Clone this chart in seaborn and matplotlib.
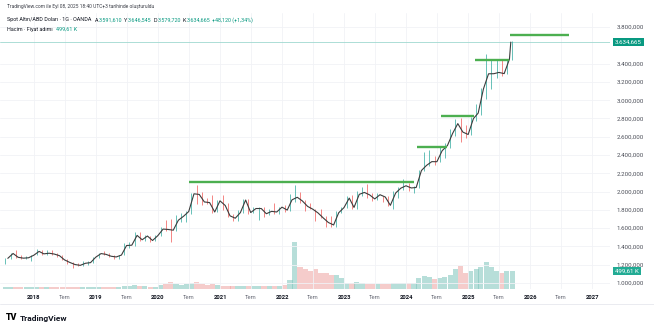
import matplotlib
matplotlib.use("Agg")
import numpy as np
import pandas as pd
import matplotlib.pyplot as plt
import matplotlib.transforms as mtransforms
from matplotlib.lines import Line2D
import seaborn as sns

sns.set_theme(style="white")
plt.rcParams['font.family'] = ['Roboto', 'DejaVu Sans']

# ---------------- data (monthly, Jul 2017 .. Sep 2025) ----------------
close = [1269, 1322, 1280, 1271, 1275, 1303,
         1345, 1318, 1325, 1316, 1298, 1252, 1224, 1201, 1192, 1215, 1222, 1282,
         1321, 1313, 1292, 1284, 1305, 1409, 1413, 1520, 1472, 1513, 1464, 1517,
         1589, 1585, 1577, 1686, 1730, 1781, 1975, 1968, 1886, 1879, 1776, 1898,
         1847, 1734, 1708, 1769, 1907, 1770, 1814, 1814, 1757, 1783, 1776, 1829,
         1797, 1909, 1937, 1897, 1837, 1807, 1766, 1711, 1661, 1634, 1768, 1824,
         1928, 1826, 1969, 1990, 1963, 1919, 1965, 1940, 1849, 1983, 2036, 2063,
         2039, 2044, 2230, 2286, 2327, 2326, 2447, 2503, 2634, 2743, 2650, 2624,
         2798, 2858, 3123, 3288, 3289, 3303, 3290, 3448, 3634.665]
high = [1270, 1331, 1357, 1306, 1299, 1306,
        1366, 1361, 1356, 1365, 1326, 1309, 1265, 1227, 1214, 1243, 1237, 1284,
        1326, 1347, 1324, 1310, 1306, 1439, 1453, 1555, 1557, 1519, 1516, 1523,
        1611, 1689, 1704, 1747, 1765, 1789, 1984, 2075, 1992, 1933, 1965, 1906,
        1959, 1871, 1755, 1798, 1913, 1917, 1832, 1832, 1834, 1814, 1877, 1831,
        1853, 1974, 2070, 1998, 1910, 1879, 1814, 1808, 1735, 1730, 1786, 1833,
        1949, 1959, 2009, 2048, 2079, 1983, 1987, 1949, 1953, 2009, 2052, 2135,
        2088, 2065, 2236, 2431, 2450, 2387, 2483, 2531, 2685, 2790, 2801, 2726,
        2817, 2956, 3128, 3500, 3435, 3452, 3439, 3453, 3646.545]
low = [1205, 1267, 1272, 1260, 1264, 1237,
       1302, 1307, 1303, 1310, 1282, 1246, 1211, 1160, 1180, 1183, 1196, 1221,
       1276, 1310, 1281, 1266, 1267, 1301, 1382, 1400, 1459, 1458, 1445, 1454,
       1517, 1564, 1451, 1567, 1670, 1671, 1757, 1863, 1848, 1860, 1764, 1775,
       1802, 1717, 1677, 1678, 1766, 1750, 1761, 1688, 1721, 1746, 1759, 1753,
       1780, 1782, 1890, 1872, 1787, 1805, 1681, 1709, 1615, 1617, 1616, 1765,
       1823, 1804, 1810, 1949, 1932, 1893, 1902, 1884, 1846, 1810, 1931, 2016,
       2002, 1984, 2039, 2228, 2277, 2286, 2319, 2364, 2471, 2603, 2537, 2583,
       2614, 2772, 2833, 3015, 3121, 3247, 3268, 3282, 3436]
volume_k = [50, 50, 55, 50, 45, 50,
            50, 55, 50, 45, 45, 50, 50, 60, 50, 50, 45, 50,
            55, 50, 50, 50, 55, 90, 80, 110, 90, 75, 65, 65,
            110, 150, 200, 130, 120, 130, 170, 200, 140, 110, 130, 100,
            90, 85, 80, 70, 70, 75, 70, 80, 70, 70, 80, 70,
            100, 250, 1300, 600, 550, 500, 550, 450, 450, 400, 400, 300,
            180, 170, 200, 160, 150, 140, 150, 140, 150, 180, 160, 170,
            160, 170, 300, 350, 320, 280, 300, 320, 400, 550, 650, 450,
            500, 550, 600, 750, 600, 500, 450, 500, 499.61]

level_values = [2100, 2490, 2825, 3440, 3712]
level_starts = ["2020-07-01", "2024-03-07", "2024-07-25", "2025-02-10", "2025-09-05"]
level_ends = ["2024-02-17", "2024-08-28", "2025-02-06", "2025-08-29", "2026-08-18"]

price_ticks = [1000, 1200, 1400, 1600, 1800, 2000, 2200, 2400, 2600, 2800,
               3000, 3200, 3400, 3800]
years = list(range(2018, 2028))
last_price = 3634.665
last_volume = 499.61

# ---------------- figure ----------------
W, H = 654, 332
fig = plt.figure(figsize=(W / 100, H / 100), dpi=100)
fig.patch.set_facecolor("white")
ax_top, ax_bot, ax_right = 13, 289, 610
ax = fig.add_axes([0, 1 - ax_bot / H, ax_right / W, (ax_bot - ax_top) / H])
axv = ax.twinx()
ax.set_zorder(axv.get_zorder() + 1)
ax.patch.set_visible(False)

months = pd.date_range("2017-07-01", periods=len(close), freq="MS")
close_dates = list(months + pd.offsets.MonthEnd(0))
close_dates[-1] = pd.Timestamp("2025-09-08")
mid_dates = months + pd.Timedelta(days=15)
df = pd.DataFrame({"date": close_dates, "close": close, "high": high, "low": low})
opens = [close[0]] + close[:-1]
up = [c >= o for c, o in zip(close, opens)]

# volume
vcol = ["#7cc4ba" if u else "#eea3a1" for u in up]
axv.bar(mid_dates, volume_k, width=30, color=vcol, alpha=0.55, linewidth=0)
axv.set_ylim(0, last_volume * (ax_bot - ax_top) / 18)
axv.set_yticks([])
for s in axv.spines.values():
    s.set_visible(False)

# price
ax.vlines(mid_dates, low, high, colors=["#26a69a" if u else "#ef5350" for u in up],
          lw=0.7, alpha=0.7, zorder=2)
sns.lineplot(data=df, x="date", y="close", ax=ax, color="#3c3c3c", lw=0.8, zorder=3)
ax.axhline(last_price, color="#9fd8d0", lw=0.6, zorder=1)

for v, s, e in zip(level_values, level_starts, level_ends):
    ax.hlines(v, pd.Timestamp(s), pd.Timestamp(e), color="#4caf50", lw=1.7, zorder=4)

px_per_unit = 0.0914
ylo = 3800 - (ax_bot - 27) / px_per_unit
yhi = 3800 + (27 - ax_top) / px_per_unit
ax.set_ylim(ylo, yhi)
ax.set_xlim(pd.Timestamp("2017-06-15"), pd.Timestamp("2027-04-15"))

# ticks
xt, xl = [], []
for y in years:
    xt.append(pd.Timestamp(f"{y}-01-01")); xl.append(str(y))
    if y < 2027:
        xt.append(pd.Timestamp(f"{y}-07-01")); xl.append("Tem")
ax.set_xticks(xt)
ax.set_xticklabels(xl)
ax.tick_params(axis="x", length=0, pad=4, labelsize=4.2)
for t in ax.get_xticklabels():
    if t.get_text() == "Tem":
        t.set_color("#6a6d78")
    else:
        t.set_color("#131722")
        t.set_fontweight("bold")

ax.yaxis.tick_right()
ax.set_yticks(price_ticks)
ax.set_yticklabels([f"{v:,}".replace(",", ".") + ",000" for v in price_ticks])
ax.tick_params(axis="y", length=0, pad=4.5, labelsize=4.4, labelcolor="#4a4d57")
ax.set_xlabel("")
ax.set_ylabel("")
ax.grid(True, color="#f1f2f6", lw=0.6)
for s in ax.spines.values():
    s.set_visible(False)

# price / volume tags
bt = mtransforms.blended_transform_factory(ax.transAxes, ax.transData)
ax.text(1 + 5 / ax_right, last_price, "3.634,665", transform=bt, ha="left", va="center",
        fontsize=4.4, color="white", clip_on=False, zorder=10,
        bbox=dict(boxstyle="square,pad=0.3", fc="#089981", ec="none"))
btv = mtransforms.blended_transform_factory(axv.transAxes, axv.transData)
axv.text(1 + 5 / ax_right, last_volume, "499,61 K", transform=btv, ha="left", va="center",
         fontsize=4.4, color="white", clip_on=False, zorder=10,
         bbox=dict(boxstyle="square,pad=0.3", fc="#22ab94", ec="none"))

# separator line under the time axis
fig.add_artist(Line2D([0, 1], [1 - 304 / H] * 2, color="#e6e8ee", lw=0.6))

# ---------------- header texts ----------------
r = fig.canvas.get_renderer()
dark = "#131722"
teal = "#089981"


def line_width(pieces, size, weight="normal"):
    tot = 0
    for s, c, gap in pieces:
        t = fig.text(0, 0, s, fontsize=size, fontweight=weight)
        tot += t.get_window_extent(r).width + gap
        t.remove()
    return tot


def put_line(pieces, x_px, y_px, size, weight="normal"):
    x = x_px
    for s, c, gap in pieces:
        t = fig.text(x / W, 1 - y_px / H, s, color=c, fontsize=size, va="center",
                     ha="left", fontweight=weight)
        x += t.get_window_extent(r).width + gap


l1 = [("TradingView.com ile Eyl 08, 2025 18:40 UTC+3 tarihinde oluşturuldu", "#3a3d46", 0)]
s1 = 4.0 * 145 / line_width(l1, 4.0)
put_line(l1, 7, 6.5, s1)

l2 = [("Spot Altın/ABD Doları · 1G · OANDA", dark, 3.5),
      ("A", dark, 0.3), ("3.591,610", teal, 2),
      ("Y", dark, 0.3), ("3.646,545", teal, 2),
      ("D", dark, 0.3), ("3.579,720", teal, 2),
      ("K", dark, 0.3), ("3.634,665", teal, 2),
      ("+48,120 (+1,34%)", teal, 0)]
s2 = 4.0 * 246 / line_width(l2, 4.0)
put_line(l2, 7, 20, s2)
l3 = [("Hacim · Fiyat adımı", dark, 3), ("499,61 K", teal, 0)]
put_line(l3, 7, 29.5, s2)

# logo
put_line([("TV", "#000000", 2)], 6, 318, 6.4, weight="heavy")
lg = [("TradingView", "#131722", 0)]
sl = 6.0 * 48 / line_width(lg, 6.0, "semibold")
put_line(lg, 20, 318, sl, weight="semibold")

fig.savefig("out.png", dpi=100, facecolor="white")
